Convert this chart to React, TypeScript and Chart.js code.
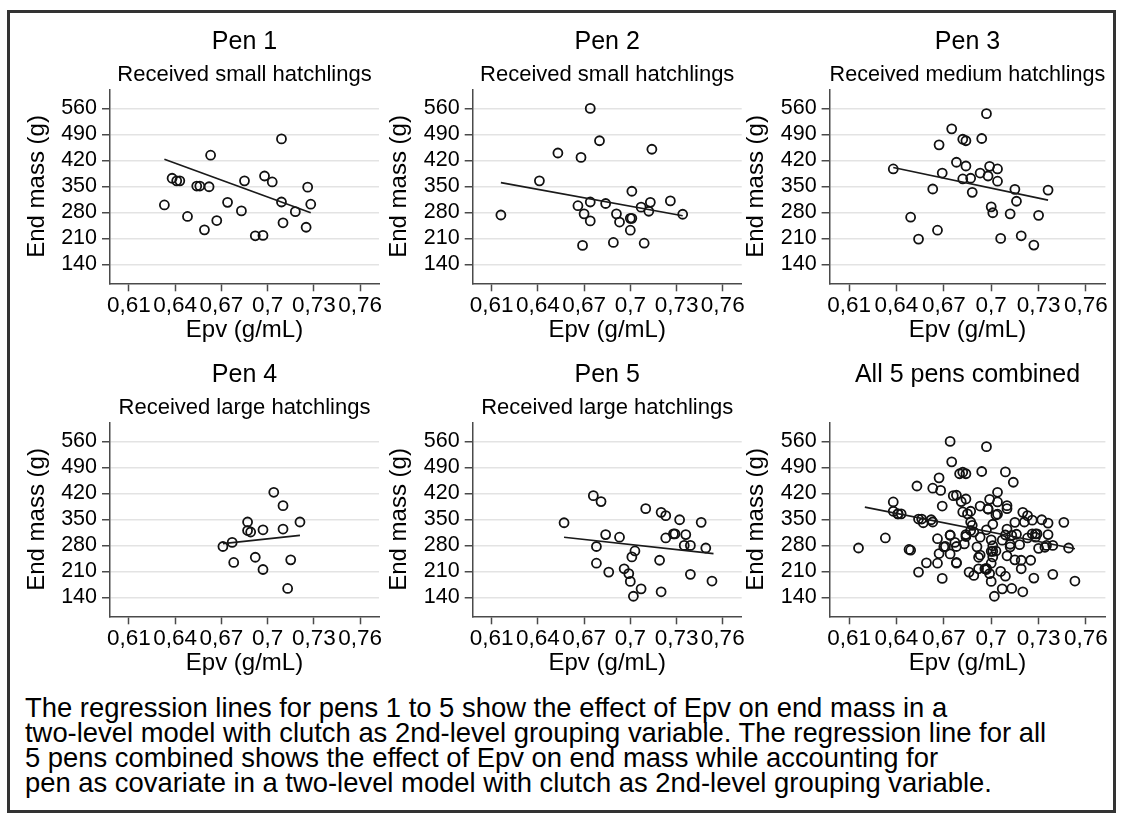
import React, { useEffect, useRef } from 'react';
import { Chart, registerables } from 'chart.js';

Chart.register(...registerables);

const FONT = '"Liberation Sans", Arial, Helvetica, sans-serif';

// ---- axis ticks ----
const xTickValues = [0.61, 0.64, 0.67, 0.7, 0.73, 0.76];
const xTickLabels = ['0,61', '0,64', '0,67', '0,7', '0,73', '0,76'];
const yTickValues = [140, 210, 280, 350, 420, 490, 560];

// ---- Pen 1 ----
const pen1Epv = [0.633, 0.638, 0.641, 0.643, 0.648, 0.654, 0.656, 0.659, 0.662, 0.663, 0.667, 0.674, 0.683, 0.685, 0.692, 0.697, 0.698, 0.703, 0.709, 0.709, 0.71, 0.718, 0.725, 0.726, 0.728];
const pen1Mass = [300, 372, 365, 365, 269, 351, 351, 233, 349, 434, 258, 307, 284, 365, 217, 218, 378, 362, 478, 308, 252, 282, 240, 348, 302];
const pen1LineEpv = [0.633, 0.728];
const pen1LineMass = [423, 279];

// ---- Pen 2 ----
const pen2Epv = [0.616, 0.641, 0.653, 0.666, 0.668, 0.669, 0.67, 0.674, 0.674, 0.674, 0.68, 0.684, 0.689, 0.691, 0.693, 0.7, 0.701, 0.701, 0.7, 0.707, 0.709, 0.712, 0.713, 0.714, 0.726, 0.734];
const pen2Mass = [273, 365, 440, 298, 428, 191, 276, 560, 308, 257, 473, 304, 199, 276, 254, 264, 264, 337, 232, 294, 197, 283, 307, 450, 311, 275];
const pen2LineEpv = [0.616, 0.734];
const pen2LineMass = [360, 271];

// ---- Pen 3 ----
const pen3Epv = [0.638, 0.649, 0.654, 0.663, 0.666, 0.667, 0.669, 0.675, 0.678, 0.682, 0.682, 0.684, 0.684, 0.687, 0.688, 0.693, 0.694, 0.697, 0.698, 0.699, 0.7, 0.701, 0.704, 0.704, 0.706, 0.712, 0.715, 0.716, 0.719, 0.727, 0.73, 0.736];
const pen3Mass = [397, 267, 208, 343, 232, 462, 386, 505, 415, 370, 477, 473, 405, 372, 334, 386, 479, 546, 378, 404, 295, 279, 397, 364, 210, 276, 342, 310, 217, 192, 272, 340];
const pen3LineEpv = [0.638, 0.736];
const pen3LineMass = [401, 313];

// ---- Pen 4 ----
const pen4Epv = [0.671, 0.677, 0.678, 0.687, 0.687, 0.689, 0.692, 0.697, 0.697, 0.704, 0.71, 0.71, 0.713, 0.715, 0.721];
const pen4Mass = [277, 288, 234, 343, 320, 316, 248, 215, 322, 423, 324, 387, 164, 241, 343];
const pen4LineEpv = [0.671, 0.721];
const pen4LineMass = [285, 307];

// ---- Pen 5 ----
const pen5Epv = [0.657, 0.676, 0.681, 0.678, 0.678, 0.684, 0.686, 0.693, 0.696, 0.699, 0.7, 0.701, 0.703, 0.702, 0.707, 0.71, 0.719, 0.72, 0.72, 0.723, 0.723, 0.728, 0.729, 0.732, 0.735, 0.736, 0.739, 0.739, 0.746, 0.749, 0.753];
const pen5Mass = [341, 414, 398, 277, 232, 309, 208, 302, 217, 204, 183, 249, 265, 143, 163, 379, 240, 155, 369, 360, 300, 311, 311, 349, 280, 309, 280, 202, 342, 273, 184];
const pen5LineEpv = [0.657, 0.754];
const pen5LineMass = [302, 258];

// ---- All pens combined ----
const allEpv = [...pen1Epv, ...pen2Epv, ...pen3Epv, ...pen4Epv, ...pen5Epv];
const allMass = [...pen1Mass, ...pen2Mass, ...pen3Mass, ...pen4Mass, ...pen5Mass];
const allLineEpv = [0.62, 0.753];
const allLineMass = [383, 271];

const captionLines = [
  'The regression lines for pens 1 to 5 show the effect of Epv on end mass in a',
  'two-level model with clutch as 2nd-level grouping variable. The regression line for all',
  '5 pens combined shows the effect of Epv on end mass while accounting for',
  'pen as covariate in a two-level model with clutch as 2nd-level grouping variable.',
];

type Panel = {
  title: string;
  subtitle: string | null;
  epv: number[];
  mass: number[];
  lineEpv: number[];
  lineMass: number[];
  col: number;
  row: number;
};

const panels: Panel[] = [
  { title: 'Pen 1', subtitle: 'Received small hatchlings', epv: pen1Epv, mass: pen1Mass, lineEpv: pen1LineEpv, lineMass: pen1LineMass, col: 0, row: 0 },
  { title: 'Pen 2', subtitle: 'Received small hatchlings', epv: pen2Epv, mass: pen2Mass, lineEpv: pen2LineEpv, lineMass: pen2LineMass, col: 1, row: 0 },
  { title: 'Pen 3', subtitle: 'Received medium hatchlings', epv: pen3Epv, mass: pen3Mass, lineEpv: pen3LineEpv, lineMass: pen3LineMass, col: 2, row: 0 },
  { title: 'Pen 4', subtitle: 'Received large hatchlings', epv: pen4Epv, mass: pen4Mass, lineEpv: pen4LineEpv, lineMass: pen4LineMass, col: 0, row: 1 },
  { title: 'Pen 5', subtitle: 'Received large hatchlings', epv: pen5Epv, mass: pen5Mass, lineEpv: pen5LineEpv, lineMass: pen5LineMass, col: 1, row: 1 },
  { title: 'All 5 pens combined', subtitle: null, epv: allEpv, mass: allMass, lineEpv: allLineEpv, lineMass: allLineMass, col: 2, row: 1 },
];

// layout geometry (pixels)
const colGeom = [
  { canvasLeft: 10, canvasWidth: 379, plotLeft: 110, plotRight: 379 },
  { canvasLeft: 372, canvasWidth: 380, plotLeft: 472.7, plotRight: 741.7 },
  { canvasLeft: 729, canvasWidth: 387, plotLeft: 829.6, plotRight: 1105.4 },
];
const rowTop = [12, 345];
const CANVAS_H = 330;
const Y_AXIS_W = 100;
const X_AXIS_H = 58.7;

const AXIS_COLOR = '#4a4a4a';
const GRID_COLOR = '#e3e3e3';

function buildChart(canvas: HTMLCanvasElement, p: Panel) {
  const g = colGeom[p.col];
  const padL = g.plotLeft - g.canvasLeft - Y_AXIS_W;
  const padR = g.canvasLeft + g.canvasWidth - g.plotRight;
  const pts = p.epv.map((x, i) => ({ x, y: p.mass[i] }));
  const line = p.lineEpv.map((x, i) => ({ x, y: p.lineMass[i] }));
  const hasSub = p.subtitle !== null;

  return new Chart(canvas, {
    type: 'scatter',
    data: {
      datasets: [
        {
          data: line,
          showLine: true,
          borderColor: '#1a1a1a',
          borderWidth: 1.7,
          pointRadius: 0,
          pointHoverRadius: 0,
          order: 0,
        } as any,
        {
          data: pts,
          pointRadius: 4.5,
          pointHoverRadius: 4.5,
          pointBorderWidth: 1.8,
          pointBorderColor: '#111111',
          pointBackgroundColor: 'rgba(0,0,0,0)',
          order: 1,
        } as any,
      ],
    },
    options: {
      responsive: false,
      animation: false,
      devicePixelRatio: 1,
      events: [],
      layout: { padding: { left: padL, right: padR, top: 0, bottom: 0 } },
      plugins: {
        legend: { display: false },
        tooltip: { enabled: false },
        title: {
          display: true,
          text: p.title,
          fullSize: false,
          color: '#000000',
          font: { family: FONT, size: 25, weight: 'normal', lineHeight: 1.2 },
          padding: { top: 15.3, bottom: hasSub ? 0 : 32.2 },
        },
        subtitle: {
          display: hasSub,
          text: p.subtitle || '',
          fullSize: false,
          color: '#000000',
          font: { family: FONT, size: 22, weight: 'normal', lineHeight: 1.2 },
          padding: { top: 4.5, bottom: 1.3 },
        },
      } as any,
      scales: {
        x: {
          type: 'linear',
          min: 0.5977,
          max: 0.7723,
          afterBuildTicks: (s: any) => {
            s.ticks = xTickValues.map((v) => ({ value: v }));
          },
          afterFit: (s: any) => {
            s.height = X_AXIS_H;
          },
          ticks: {
            autoSkip: false,
            maxRotation: 0,
            minRotation: 0,
            padding: 3,
            color: '#000000',
            font: { family: FONT, size: 22.5, lineHeight: 1 },
            callback: (v: any) => {
              const idx = xTickValues.findIndex((t) => Math.abs(t - Number(v)) < 1e-6);
              return idx >= 0 ? xTickLabels[idx] : '';
            },
          },
          grid: {
            display: true,
            drawOnChartArea: false,
            drawTicks: true,
            tickLength: 8,
            tickColor: AXIS_COLOR,
            tickWidth: 1.5,
          },
          border: { display: true, color: AXIS_COLOR, width: 1.5 },
          title: {
            display: true,
            text: 'Epv (g/mL)',
            color: '#000000',
            font: { family: FONT, size: 24, lineHeight: 1 },
            padding: { top: 0, bottom: 0 },
          },
        },
        y: {
          type: 'linear',
          min: 89,
          max: 611,
          afterBuildTicks: (s: any) => {
            s.ticks = yTickValues.map((v) => ({ value: v }));
          },
          afterFit: (s: any) => {
            s.width = Y_AXIS_W;
          },
          ticks: {
            padding: 5,
            color: '#000000',
            font: { family: FONT, size: 21.5, lineHeight: 1 },
          },
          grid: {
            display: true,
            drawOnChartArea: true,
            color: GRID_COLOR,
            lineWidth: 1.5,
            drawTicks: true,
            tickLength: 8,
            tickColor: AXIS_COLOR,
            tickWidth: 1.5,
          },
          border: { display: true, color: AXIS_COLOR, width: 1.5 },
          title: {
            display: true,
            text: 'End mass (g)',
            color: '#000000',
            font: { family: FONT, size: 24, lineHeight: 1 },
            padding: { top: 15, bottom: 0 },
          },
        },
      } as any,
    },
  });
}

export default function App() {
  const refs = useRef<(HTMLCanvasElement | null)[]>([]);

  useEffect(() => {
    const charts: Chart[] = [];
    panels.forEach((p, i) => {
      const c = refs.current[i];
      if (c) charts.push(buildChart(c, p));
    });
    return () => {
      charts.forEach((ch) => ch.destroy());
    };
  }, []);

  return (
    <div
      style={{
        position: 'absolute',
        left: 0,
        top: 0,
        width: 1123,
        height: 820,
        background: '#ffffff',
        overflow: 'hidden',
        fontFamily: FONT,
      }}
    >
      <div
        style={{
          position: 'absolute',
          left: 7,
          top: 10,
          width: 1109,
          height: 803,
          border: '3px solid #333333',
          boxSizing: 'border-box',
        }}
      />
      {panels.map((p, i) => {
        const g = colGeom[p.col];
        return (
          <canvas
            key={i}
            ref={(el) => {
              refs.current[i] = el;
            }}
            width={g.canvasWidth}
            height={CANVAS_H}
            style={{
              position: 'absolute',
              left: g.canvasLeft,
              top: rowTop[p.row],
              width: g.canvasWidth,
              height: CANVAS_H,
            }}
          />
        );
      })}
      <div
        style={{
          position: 'absolute',
          left: 25,
          top: 695,
          fontSize: 27.4,
          lineHeight: '25px',
          color: '#000000',
          whiteSpace: 'nowrap',
        }}
      >
        {captionLines.map((l, i) => (
          <div key={i}>{l}</div>
        ))}
      </div>
    </div>
  );
}
